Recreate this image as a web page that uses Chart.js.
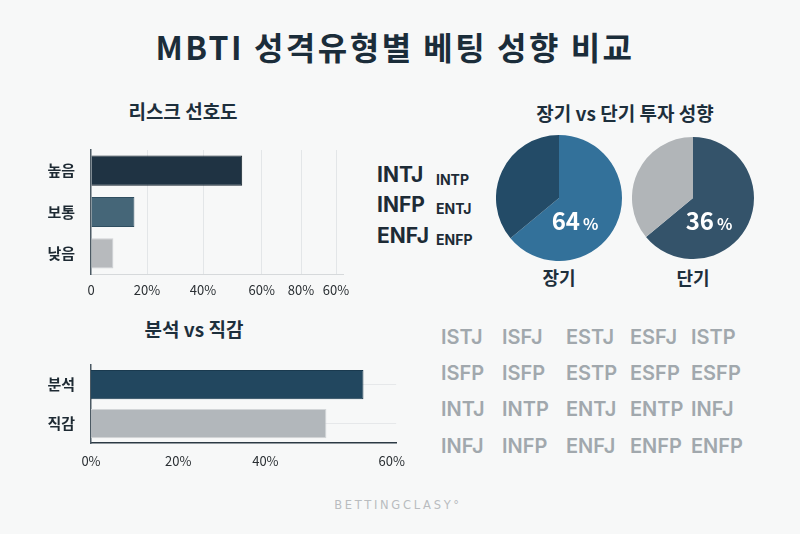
<!DOCTYPE html>
<html>
<head>
<meta charset="utf-8">
<script src="https://cdn.jsdelivr.net/npm/chart.js@4/dist/chart.umd.min.js"></script>
<style>
  body { margin: 0; background: #f7f8f8; font-family: "Noto Sans CJK KR", "Noto Sans", sans-serif; }
  #wrap { position: relative; width: 800px; height: 534px; overflow: hidden; background: #f7f8f8; }
  .t { position: absolute; white-space: nowrap; transform: translate(-50%, -50%); font-weight: 700; color: #1d2f3c; }
  .l { position: absolute; white-space: nowrap; transform: translateY(-50%); font-weight: 700; }
  canvas { position: absolute; }
</style>
</head>
<body>
<div id="wrap">
  <div class="t" style="left:395px;top:46px;font-size:32px;letter-spacing:2.5px;color:#1b2d3a;">MBTI 성격유형별 베팅 성향 비교</div>
  <div class="t" style="left:183px;top:110px;font-size:19px;">리스크 선호도</div>
  <div class="t" style="left:194px;top:328px;font-size:19px;">분석 vs 직감</div>
  <div class="t" style="left:625px;top:112px;font-size:19px;">장기 vs 단기 투자 성향</div>
  <div class="t" style="left:559px;top:277px;font-size:18px;">장기</div>
  <div class="t" style="left:693px;top:277px;font-size:18px;">단기</div>

  <canvas id="risk" width="330" height="180" style="left:30px;top:125px;"></canvas>
  <canvas id="style" width="385" height="130" style="left:30px;top:340px;"></canvas>
  <canvas id="pieLong" width="126" height="126" style="left:496px;top:135px;"></canvas>
  <canvas id="pieShort" width="122" height="122" style="left:632px;top:137px;"></canvas>
  <div id="types"></div>
  <div id="grid"></div>
  <div class="t" style="left:398px;top:505px;font-size:11.5px;font-weight:400;color:#b9bcbf;letter-spacing:2.7px;font-family:'DejaVu Sans',sans-serif;">BETTINGCLASY°</div>
</div>

<script>
// risk preference
const riskLabels = ['높음', '보통', '낮음'];
const riskValues = [54, 15.5, 8];
const riskTickValues = [0, 20, 40, 61, 75, 87.5];
const riskTickLabels = ['0', '20%', '40%', '60%', '80%', '60%'];

// analysis vs intuition
const styleLabels = ['분석', '직감'];
const styleValues = [62.5, 54];
const styleTickValues = [0, 20, 40, 69];
const styleTickLabels = ['0%', '20%', '40%', '60%'];

// long vs short term
const longSplit = [64, 36];
const shortSplit = [64, 36];
const longLabel = 64;
const shortLabel = 36;

// type lists
const bigTypes = ['INTJ', 'INFP', 'ENFJ'];
const smallTypes = ['INTP', 'ENTJ', 'ENFP'];
const gridTypes = [
  ['ISTJ', 'ISFJ', 'ESTJ', 'ESFJ', 'ISTP'],
  ['ISFP', 'ISFP', 'ESTP', 'ESFP', 'ESFP'],
  ['INTJ', 'INTP', 'ENTJ', 'ENTP', 'INFJ'],
  ['INFJ', 'INFP', 'ENFJ', 'ENFP', 'ENFP']
];

const FONT = '"Noto Sans CJK KR", "Noto Sans", sans-serif';
Chart.defaults.font.family = FONT;

new Chart(document.getElementById('risk'), {
  type: 'bar',
  data: {
    labels: riskLabels,
    datasets: [{
      data: riskValues,
      backgroundColor: ['#1f3343', '#456678', '#b7babd'],
      borderColor: ['#15232e', '#2f4e60', '#cfd2d4'],
      borderWidth: 1,
      barPercentage: 0.73,
      categoryPercentage: 1
    }]
  },
  options: {
    indexAxis: 'y',
    responsive: false,
    animation: false,
    layout: { padding: { top: 10, right: 17, left: 0, bottom: 0 } },
    plugins: { legend: { display: false }, tooltip: { enabled: false } },
    scales: {
      x: {
        type: 'linear',
        min: 0,
        max: 90,
        afterBuildTicks: s => { s.ticks = riskTickValues.map(v => ({ value: v })); },
        ticks: {
          callback: (v, i) => riskTickLabels[i],
          font: { size: 13 },
          color: '#2a2f33',
          padding: 8,
          maxRotation: 0,
          autoSkip: false
        },
        grid: { color: c => c.index === 0 ? 'rgba(0,0,0,0)' : '#e3e6e8', drawTicks: false },
        border: { color: '#d6d9db' },
        afterFit: s => { s.height = 31; }
      },
      y: {
        grid: { display: false, drawTicks: false },
        border: { color: '#4b5963', width: 1.5 },
        ticks: { font: { size: 15, weight: 'bold' }, color: '#1e2a33', padding: 16 },
        afterFit: s => { s.width = 61; }
      }
    }
  }
});

new Chart(document.getElementById('style'), {
  type: 'bar',
  data: {
    labels: styleLabels,
    datasets: [{
      data: styleValues,
      backgroundColor: ['#22475f', '#b2b7bb'],
      borderColor: ['#1a3a4f', '#d3d6d8'],
      borderWidth: 1,
      barPercentage: 0.75,
      categoryPercentage: 1
    }]
  },
  options: {
    indexAxis: 'y',
    responsive: false,
    animation: false,
    layout: { padding: { top: 12, right: 0, left: 0, bottom: 0 } },
    plugins: { legend: { display: false }, tooltip: { enabled: false } },
    scales: {
      x: {
        type: 'linear',
        min: 0,
        max: 70,
        afterBuildTicks: s => { s.ticks = styleTickValues.map(v => ({ value: v })); },
        ticks: {
          callback: (v, i) => styleTickLabels[i],
          font: { size: 13 },
          color: '#2a2f33',
          padding: 10,
          maxRotation: 0,
          autoSkip: false
        },
        grid: { display: false, drawTicks: false },
        border: { color: '#2c3a44', width: 1.5 },
        afterFit: s => { s.height = 27; }
      },
      y: {
        grid: { color: '#e6e8ea', offset: false, drawTicks: false },
        border: { color: '#4b5963', width: 1.5 },
        ticks: { font: { size: 15, weight: 'bold' }, color: '#1e2a33', padding: 16 },
        afterFit: s => { s.width = 61; }
      }
    }
  }
});

const pctLabel = {
  id: 'pctLabel',
  afterDraw(chart, args, opts) {
    const arc = chart.getDatasetMeta(0).data[0];
    const ctx = chart.ctx;
    const cx = arc.x + 16, cy = arc.y + 24;
    ctx.save();
    ctx.fillStyle = '#ffffff';
    ctx.textBaseline = 'alphabetic';
    ctx.font = 'bold 24px ' + FONT;
    const num = String(opts.value);
    const w1 = ctx.measureText(num).width;
    ctx.font = 'bold 16px ' + FONT;
    const w2 = ctx.measureText('%').width;
    const x0 = cx - (w1 + 3 + w2) / 2;
    ctx.font = 'bold 24px ' + FONT;
    ctx.fillText(num, x0, cy + 8);
    ctx.font = 'bold 16px ' + FONT;
    ctx.fillText('%', x0 + w1 + 3, cy + 8);
    ctx.restore();
  }
};

function pie(id, values, colors, label) {
  new Chart(document.getElementById(id), {
    type: 'pie',
    data: { labels: ['a', 'b'], datasets: [{ data: values, backgroundColor: colors, borderWidth: 0 }] },
    options: {
      responsive: false,
      animation: false,
      layout: { padding: 0 },
      plugins: { legend: { display: false }, tooltip: { enabled: false }, pctLabel: { value: label } }
    },
    plugins: [pctLabel]
  });
}
pie('pieLong', longSplit, ['#33719a', '#234b67'], longLabel);
pie('pieShort', shortSplit, ['#34536a', '#b1b5b8'], shortLabel);

// type lists as text
const types = document.getElementById('types');
const bigY = [174, 204, 235];
const smallY = [179, 208, 239];
bigTypes.forEach((t, i) => {
  const d = document.createElement('div');
  d.className = 'l';
  d.textContent = t;
  d.style.cssText = `left:377px;top:${bigY[i]}px;font-size:21px;color:#1d2b36;font-family:Inter,'Noto Sans',sans-serif;`;
  types.appendChild(d);
  const s = document.createElement('div');
  s.className = 'l';
  s.textContent = smallTypes[i];
  s.style.cssText = `left:436px;top:${smallY[i]}px;font-size:14px;color:#1d2b36;font-family:Inter,'Noto Sans',sans-serif;`;
  types.appendChild(s);
});

const grid = document.getElementById('grid');
const colX = [441, 502, 566, 630, 691];
const rowY = [337, 373, 409, 446];
gridTypes.forEach((row, r) => row.forEach((t, c) => {
  const d = document.createElement('div');
  d.className = 'l';
  d.textContent = t;
  d.style.cssText = `left:${colX[c]}px;top:${rowY[r]}px;font-size:20px;font-weight:600;color:#a1a8ad;font-family:Inter,'Noto Sans',sans-serif;`;
  grid.appendChild(d);
}));
</script>
</body>
</html>
